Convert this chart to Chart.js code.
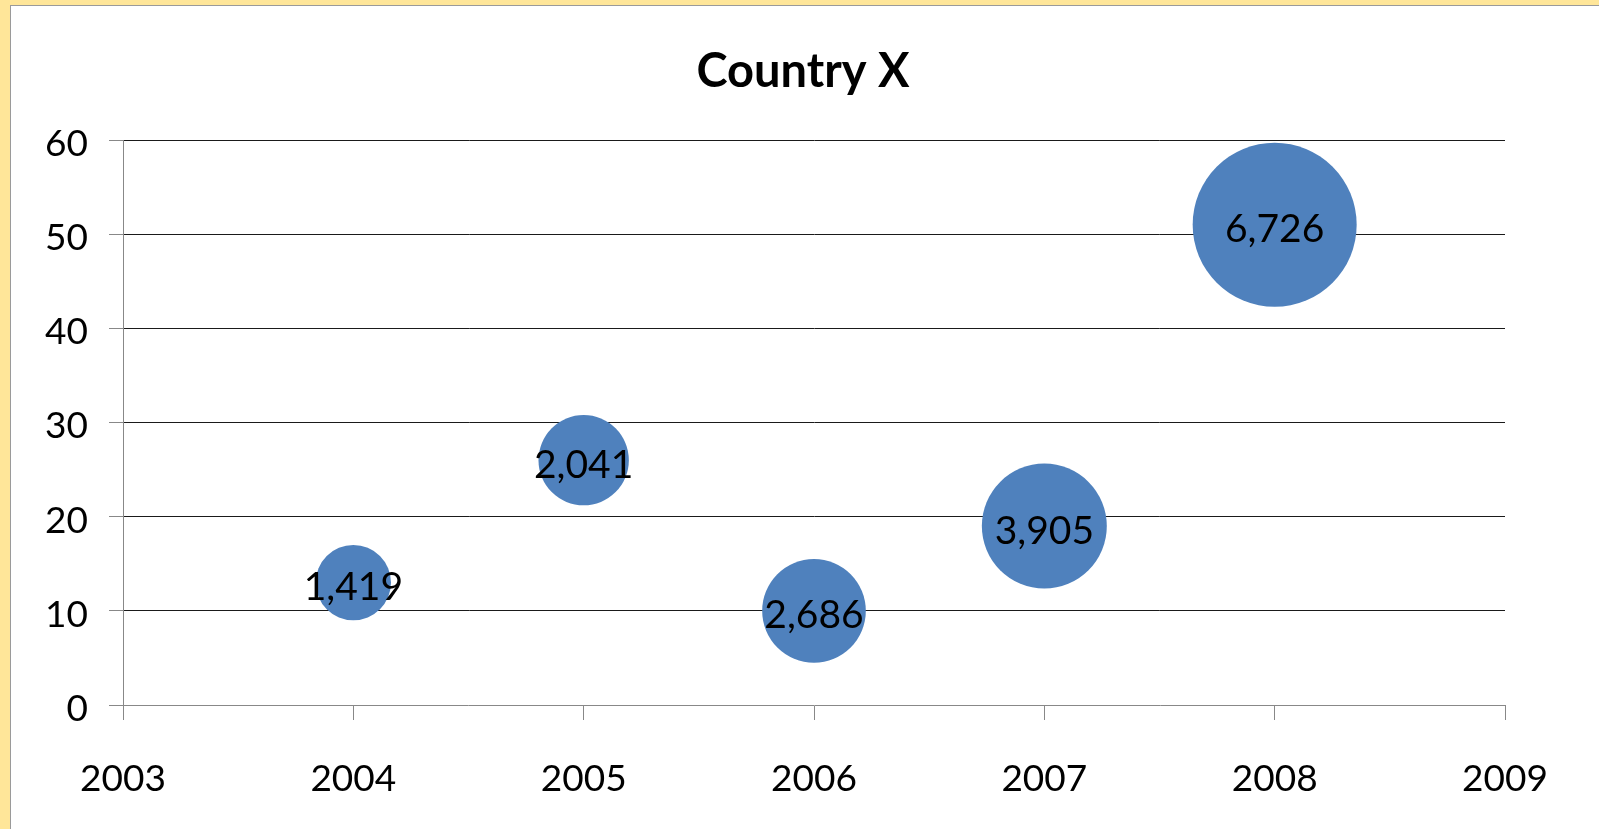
<!DOCTYPE html>
<html>
<head>
<meta charset="utf-8">
<script src="https://cdn.jsdelivr.net/npm/chart.js@4/dist/chart.umd.min.js"></script>
<style>
  html, body { margin: 0; padding: 0; width: 1599px; height: 829px; overflow: hidden; background: #FFE699; }
  #frame { position: absolute; left: 10px; top: 5px; width: 1600px; height: 840px; background: #fff; border-left: 1px solid #9a9a9a; border-top: 1px solid #9a9a9a; }
  #wrap { position: absolute; left: 0; top: 0; width: 1599px; height: 829px; }
</style>
</head>
<body>
<div id="frame"></div>
<div id="wrap"><canvas id="c" width="1599" height="829"></canvas></div>
<script>
const years = [2004, 2005, 2006, 2007, 2008];
const yValues = [13, 26, 10, 19, 51];
const sizes = [1419, 2041, 2686, 3905, 6726];
const yTicks = [0, 10, 20, 30, 40, 50, 60];
const xTicks = [2003, 2004, 2005, 2006, 2007, 2008, 2009];
const title = 'Country X';

const maxR = 82;
const maxSize = Math.max(...sizes);
const points = years.map((x, i) => ({ x: x, y: yValues[i], r: maxR * Math.sqrt(sizes[i] / maxSize), s: sizes[i] }));

const FONT = 'Lato, "Open Sans", sans-serif';

const labelPlugin = {
  id: 'bubbleLabels',
  afterDatasetsDraw(chart) {
    const ctx = chart.ctx;
    const meta = chart.getDatasetMeta(0);
    ctx.save();
    ctx.font = '39px ' + FONT;
    ctx.fillStyle = '#000';
    ctx.textAlign = 'center';
    ctx.textBaseline = 'middle';
    meta.data.forEach((el, i) => {
      ctx.fillText(sizes[i].toLocaleString('en-US'), el.x, el.y + 5);
    });
    ctx.restore();
  }
};

const titlePlugin = {
  id: 'customTitle',
  afterDraw(chart) {
    const ctx = chart.ctx;
    ctx.save();
    ctx.font = 'bold 47px ' + FONT;
    ctx.fillStyle = '#000';
    ctx.textAlign = 'center';
    ctx.textBaseline = 'middle';
    ctx.fillText(title, 803, 72);
    ctx.restore();
  }
};

Chart.defaults.font.family = FONT;
new Chart(document.getElementById('c'), {
  type: 'bubble',
  data: {
    datasets: [{
      data: points,
      backgroundColor: '#4F81BD',
      borderWidth: 0,
      hoverBorderWidth: 0,
      clip: false
    }]
  },
  options: {
    responsive: false,
    animation: false,
    events: [],
    layout: { padding: { left: 0, right: 94, top: 140, bottom: 0 } },
    plugins: {
      legend: { display: false },
      tooltip: { enabled: false },
      title: { display: false }
    },
    scales: {
      x: {
        type: 'linear',
        min: 2003,
        max: 2009,
        afterBuildTicks(scale) { scale.ticks = xTicks.map(v => ({ value: v })); },
        afterFit(scale) { scale.height = 124; },
        ticks: {
          color: '#000',
          font: { size: 37 },
          padding: 37,
          maxRotation: 0,
          autoSkip: false,
          callback: v => String(v)
        },
        grid: { drawOnChartArea: false, drawTicks: true, tickLength: 15, color: '#888', lineWidth: 1 },
        border: { display: true, color: '#888', width: 1 }
      },
      y: {
        type: 'linear',
        min: 0,
        max: 60,
        afterBuildTicks(scale) { scale.ticks = yTicks.map(v => ({ value: v })); },
        afterFit(scale) { scale.width = 123; },
        ticks: {
          color: '#000',
          font: { size: 37 },
          padding: 21,
          labelOffset: 4,
          callback: v => String(v)
        },
        grid: {
          drawOnChartArea: true,
          drawTicks: true,
          tickLength: 14,
          color: ctx => (ctx.tick && ctx.tick.value === 0) ? 'rgba(0,0,0,0)' : '#1a1a1a',
          tickColor: '#888',
          lineWidth: 1
        },
        border: { display: true, color: '#888', width: 1 }
      }
    }
  },
  plugins: [labelPlugin, titlePlugin]
});
</script>
</body>
</html>
